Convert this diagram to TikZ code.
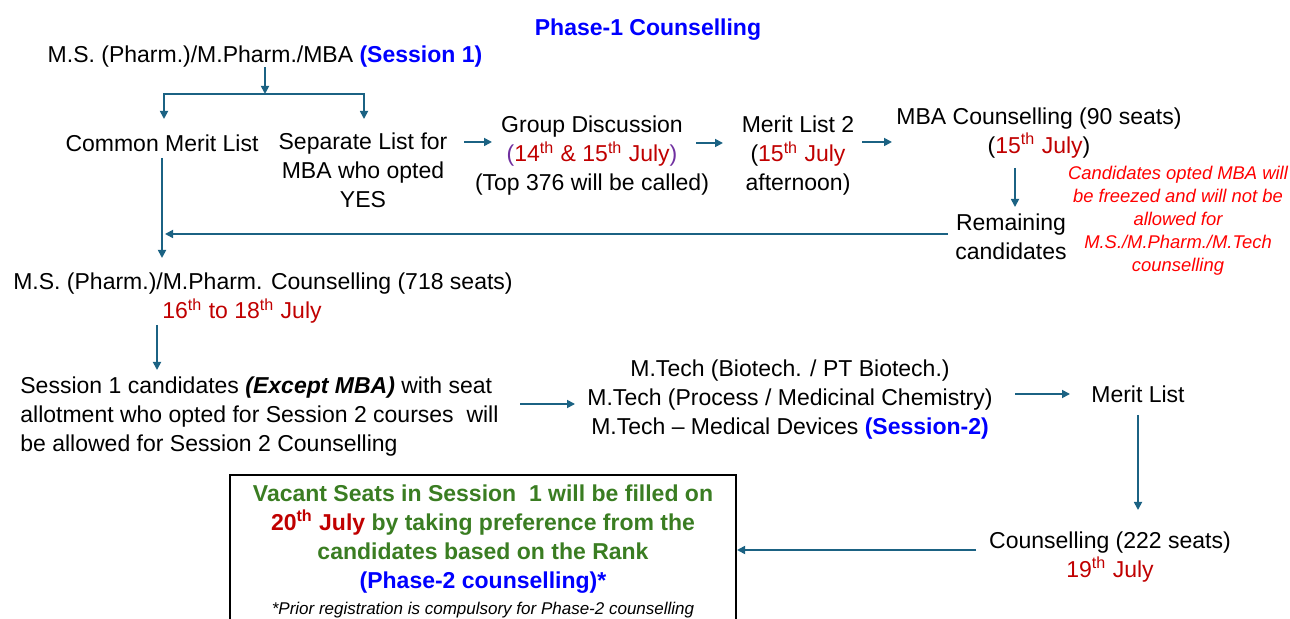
\documentclass[tikz,border=0pt]{standalone}
\usepackage{fontspec}
\setmainfont{Liberation Sans}
\usetikzlibrary{arrows.meta}

\definecolor{flowteal}{HTML}{1B6283}
\definecolor{dateRed}{HTML}{C00000}
\definecolor{noteRed}{HTML}{FF0000}
\definecolor{sessBlue}{HTML}{0000FF}
\definecolor{vacGreen}{HTML}{3A7D22}
\definecolor{parPurple}{HTML}{7030A0}
\newcommand{\thsup}{\textsuperscript{th}}

\tikzset{
  arr/.style={draw=flowteal, line width=0.85pt, -{Triangle[length=4pt,width=4pt]}},
  lbl/.style={align=center, inner sep=0pt, font=\fontsize{11.5}{14.5}\selectfont},
  note/.style={align=center, inner sep=0pt, text=noteRed, font=\fontsize{9.2}{11.5}\selectfont\itshape},
  vacbox/.style={draw, line width=0.8pt, align=center, minimum width=253pt, inner ysep=5pt,
    font=\fontsize{11.5}{14.5}\selectfont\bfseries}
}

\begin{document}
\begin{tikzpicture}[x=0.5pt, y=-0.5pt]
    \useasboundingbox (0,0) rectangle (1290,619);

    % Title
    \node[lbl, font=\fontsize{11.5}{14.5}\selectfont\bfseries, text=sessBlue] (title) at (648,30) {Phase-1 Counselling};

    % Session 1 start
    \node[lbl] (top) at (265,57) {M.S. (Pharm.)/M.Pharm./MBA {\bfseries\color{sessBlue}(Session 1)}};
    \node[lbl] (cml) at (162,143) {Common Merit List};
    \node[lbl] (sep) at (363,170) {Separate List for\\MBA who opted\\YES};

    % MBA branch
    \node[lbl] (gd) at (592,156) {Group Discussion\\{\color{parPurple}(}{\color{dateRed}14\thsup{} \& 15\thsup{} July}{\color{parPurple})}\\(Top 376 will be called)};
    \node[lbl] (ml2) at (798,156) {Merit List 2\\({\color{dateRed}15\thsup{} July}\\afternoon)};
    \node[lbl] (mbac) at (1039,133) {MBA Counselling (90 seats)\\({\color{dateRed}15\thsup{} July})};
    \node[lbl] (rem) at (1011,237) {Remaining\\candidates};
    \node[note] (freeze) at (1178,221) {Candidates opted MBA will\\be freezed and will not be\\allowed for\\M.S./M.Pharm./M.Tech\\counselling};

    % M.S./M.Pharm. counselling
    \node[lbl] (msc) at (263,284) {M.S. (Pharm.)/M.Pharm. Counselling (718 seats)};
    \node[lbl, text=dateRed] (mscdate) at (242,311) {16\thsup{} to 18\thsup{} July};
    \node[lbl, align=left, anchor=west] (s1) at (20,417) {Session 1 candidates {\bfseries\itshape (Except MBA)} with seat\\allotment who opted for Session 2 courses\ \ will\\be allowed for Session 2 Counselling};

    % Session 2
    \node[lbl] (mtech) at (790,400) {M.Tech (Biotech. / PT Biotech.)\\M.Tech (Process / Medicinal Chemistry)\\M.Tech -- Medical Devices {\bfseries\color{sessBlue}(Session-2)}};
    \node[lbl] (ml) at (1138,394) {Merit List};
    \node[lbl] (c222) at (1110,557) {Counselling (222 seats)\\{\color{dateRed}19\thsup{} July}};

    % Phase-2 box
    \node[vacbox, anchor=north] (vac) at (483,474) {{\color{vacGreen}Vacant Seats in Session\ \ 1 will be filled on}\\{\color{dateRed}20\thsup{} July} {\color{vacGreen}by taking preference from the}\\{\color{vacGreen}candidates based on the Rank}\\{\color{sessBlue}(Phase-2 counselling)*}\\[-1.5pt]{\fontsize{8.5}{10}\selectfont\mdseries\itshape *Prior registration is compulsory for Phase-2 counselling}};

    % Fork below the start
    \coordinate (fork) at ([shift={(0,37)}]top.center);
    \draw[arr] ([shift={(0,10)}]top.center) -- (fork);
    \draw[arr] (fork) -| ([shift={(2,-24)}]cml.center);
    \draw[arr] (fork) -| ([shift={(1,-51)}]sep.center);

    % MBA arrows
    \draw[arr] ([shift={(101,-28)}]sep.center) -- ([shift={(-100,-14)}]gd.center);
    \draw[arr] ([shift={(104,-13)}]gd.center) -- ([shift={(-75,-13)}]ml2.center);
    \draw[arr] ([shift={(64,-14)}]ml2.center) -- ([shift={(-147,9)}]mbac.center);
    \draw[arr] ([shift={(-24,35)}]mbac.center) -- ([shift={(4,-30)}]rem.center);
    \draw[arr] ([shift={(-63,-3)}]rem.center) -- ([shift={(3,91)}]cml.center);

    % Down to counselling and Session 2
    \draw[arr] ([shift={(0,15)}]cml.center) -- ([shift={(0,115)}]cml.center);
    \draw[arr] ([shift={(-85,14)}]mscdate.center) -- ([shift={(137,-47)}]s1.west);
    \draw[arr] ([shift={(500,-13)}]s1.west) -- ([shift={(-215,4)}]mtech.center);
    \draw[arr] ([shift={(225,-6)}]mtech.center) -- ([shift={(-68,0)}]ml.center);
    \draw[arr] ([shift={(0,21)}]ml.center) -- ([shift={(28,-47)}]c222.center);
    \draw[arr] ([shift={(-134,-7)}]c222.center) -- ([shift={(-373,-7)}]c222.center);
\end{tikzpicture}
\end{document}
